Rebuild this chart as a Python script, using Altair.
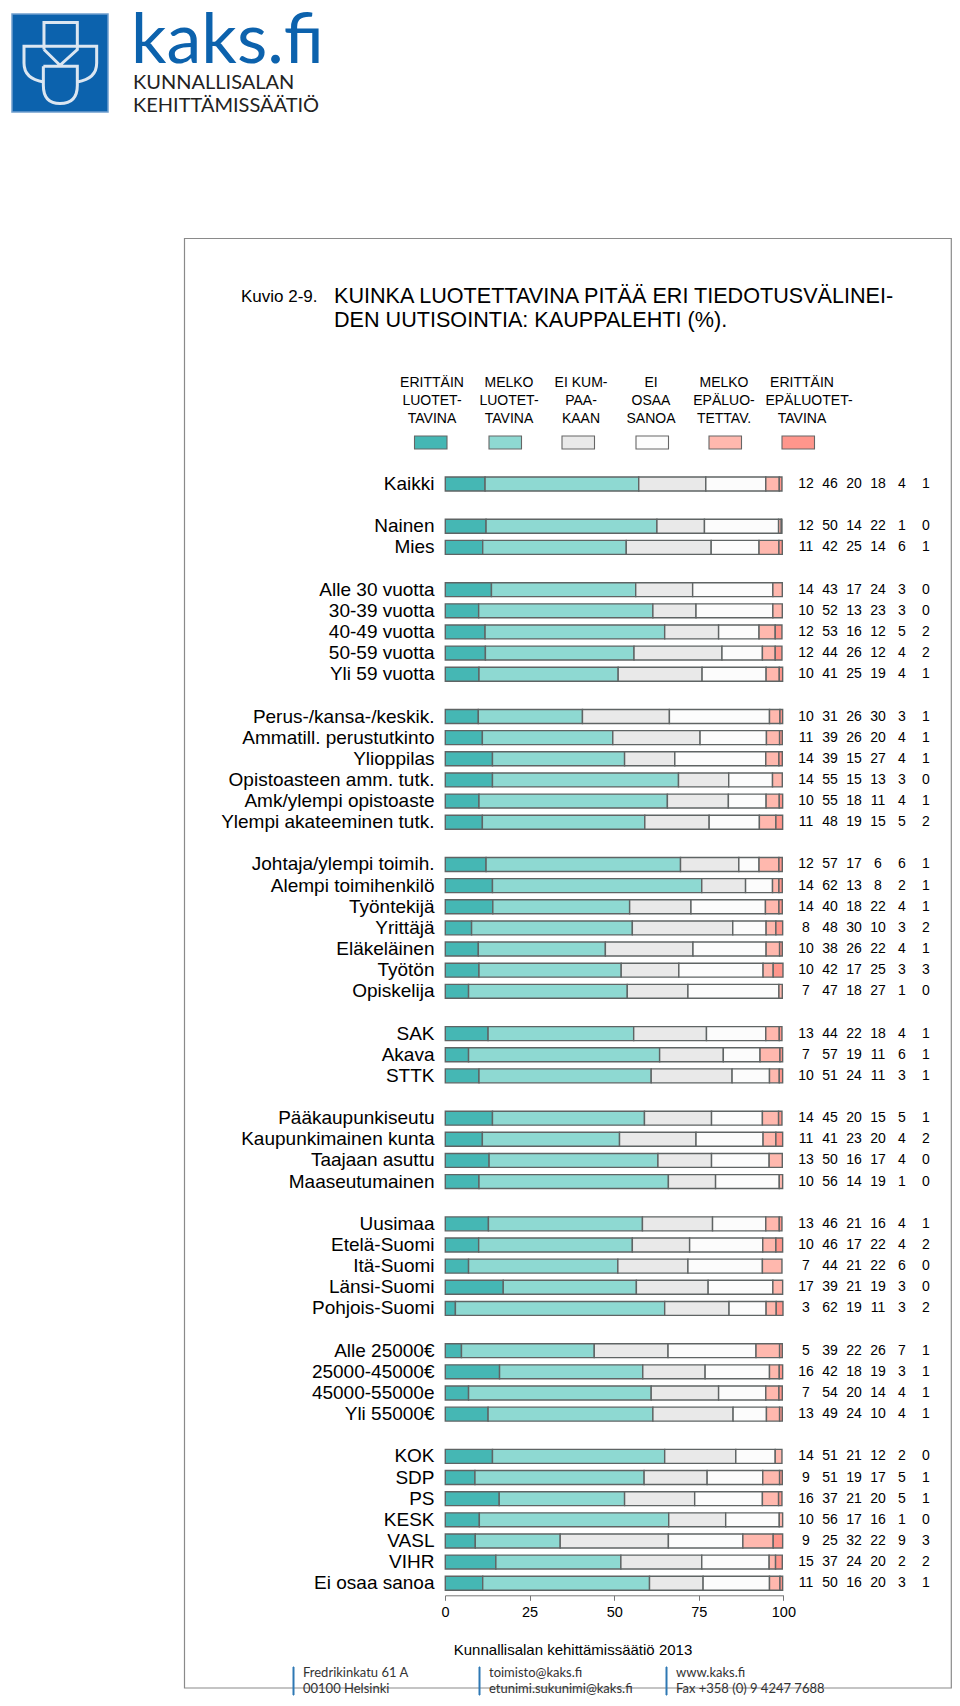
import altair as alt
import pandas as pd

rows = ["Kaikki", "Nainen", "Mies", "Alle 30 vuotta", "30-39 vuotta", "40-49 vuotta", "50-59 vuotta", "Yli 59 vuotta",
        "Perus-/kansa-/keskik.", "Ammatill. perustutkinto", "Ylioppilas", "Opistoasteen amm. tutk.", "Amk/ylempi opistoaste", "Ylempi akateeminen tutk.",
        "Johtaja/ylempi toimih.", "Alempi toimihenkilö", "Työntekijä", "Yrittäjä", "Eläkeläinen", "Työtön", "Opiskelija",
        "SAK", "Akava", "STTK", "Pääkaupunkiseutu", "Kaupunkimainen kunta", "Taajaan asuttu", "Maaseutumainen",
        "Uusimaa", "Etelä-Suomi", "Itä-Suomi", "Länsi-Suomi", "Pohjois-Suomi",
        "Alle 25000€", "25000-45000€", "45000-55000e", "Yli 55000€",
        "KOK", "SDP", "PS", "KESK", "VASL", "VIHR", "Ei osaa sanoa"]
# the groups end after these rows; a blank band follows each
group_ends = ["Kaikki", "Mies", "Yli 59 vuotta", "Ylempi akateeminen tutk.", "Opiskelija", "STTK", "Maaseutumainen", "Pohjois-Suomi", "Yli 55000€"]

categories = ["ERITTÄIN\nLUOTET-\nTAVINA", "MELKO\nLUOTET-\nTAVINA", "EI KUM-\nPAA-\nKAAN", "EI\nOSAA\nSANOA", "MELKO\nEPÄLUO-\nTETTAV.", "ERITTÄIN\nEPÄLUOTET-\nTAVINA"]
colors = ["#45b7b4", "#8ed9d2", "#e9e9e9", "#fcfcfc", "#ffb8ae", "#ff968c"]

# printed numbers
n1 = [12,12,11,14,10,12,12,10,10,11,14,14,10,11,12,14,14,8,10,10,7,13,7,10,14,11,13,10,13,10,7,17,3,5,16,7,13,14,9,16,10,9,15,11]
n2 = [46,50,42,43,52,53,44,41,31,39,39,55,55,48,57,62,40,48,38,42,47,44,57,51,45,41,50,56,46,46,44,39,62,39,42,54,49,51,51,37,56,25,37,50]
n3 = [20,14,25,17,13,16,26,25,26,26,15,15,18,19,17,13,18,30,26,17,18,22,19,24,20,23,16,14,21,17,21,21,19,22,18,20,24,21,19,21,17,32,24,16]
n4 = [18,22,14,24,23,12,12,19,30,20,27,13,11,15,6,8,22,10,22,25,27,18,11,11,15,20,17,19,16,22,22,19,11,26,19,14,10,12,17,20,16,22,20,20]
n5 = [4,1,6,3,3,5,4,4,3,4,4,3,4,5,6,2,4,3,4,3,1,4,6,3,5,4,4,1,4,4,6,3,3,7,3,4,4,2,5,5,1,9,2,3]
n6 = [1,0,1,0,0,2,2,1,1,1,1,0,1,2,1,1,1,2,1,3,0,1,1,1,1,2,0,0,1,2,0,0,2,1,1,1,1,0,1,1,0,3,2,1]

# segment lengths
v1 = [11.8,12.1,11.1,13.7,9.9,11.8,11.9,10.0,9.8,11.0,14.0,14.0,10.0,11.0,12.1,14.0,14.1,7.8,9.8,10.0,6.9,12.7,6.9,10.0,14.0,11.0,13.0,10.0,12.8,9.9,6.9,17.2,3.0,4.8,16.1,6.9,12.7,14.0,8.8,16.0,10.1,8.9,15.0,11.1]
v2 = [45.6,50.7,42.6,42.8,51.7,53.3,44.1,41.3,30.9,38.7,39.2,55.2,55.9,48.2,57.7,62.1,40.6,47.7,37.7,42.2,47.1,43.2,56.7,51.1,45.1,40.7,50.1,56.2,45.7,45.6,44.3,39.5,62.1,39.4,42.5,54.2,48.9,51.1,50.2,37.2,56.2,25.2,37.1,49.5]
v3 = [19.9,14.1,25.2,16.9,12.8,16.0,26.1,24.9,25.8,25.9,14.9,14.9,18.1,19.1,17.3,13.0,18.2,29.8,26.0,17.1,18.0,21.6,18.9,24.0,19.9,22.7,15.9,14.0,20.8,17.0,20.8,21.3,19.1,21.9,18.5,20.0,23.8,21.1,18.7,20.8,16.9,32.1,24.0,15.9]
v4 = [17.8,22.0,14.2,23.8,22.8,12.0,12.0,19.0,29.7,19.7,27.0,13.0,11.2,14.9,6.0,8.0,22.1,9.9,21.7,25.0,27.0,17.6,10.9,11.1,15.1,19.9,17.1,18.9,15.8,21.7,22.1,19.2,11.0,26.1,19.1,14.0,9.9,11.7,16.5,20.1,15.9,22.1,20.0,19.7]
v5 = [4.0,0.8,5.9,2.8,2.8,4.8,3.8,3.9,3.1,3.9,3.9,2.9,3.9,4.9,5.9,1.9,4.0,2.9,4.0,3.0,1.0,4.0,5.9,2.9,4.8,3.8,3.9,1.0,4.0,3.9,5.8,2.9,3.0,7.0,2.9,3.9,3.9,2.0,5.0,4.8,1.0,9.0,1.9,3.1]
v6 = [0.8,0.2,1.0,0,0,2.0,2.0,1.0,0.8,0.8,1.0,0,1.0,2.0,1.0,1.0,1.0,2.0,0.8,2.9,0,0.8,0.8,1.0,1.0,2.0,0,0,0.8,2.0,0,0,2.0,0.8,1.0,1.0,0.8,0,0.8,1.0,0,2.8,2.0,0.8]

ticks = [0, 25, 50, 75, 100]

FONT = "Liberation Sans"
PLOT_X, PLOT_Y = 445.0, 473.4       # page position of the plot area
W, H = 338.4, 1120.4
def px(x): return x - PLOT_X
def py(y): return y - PLOT_Y

domain = []
for r in rows:
    domain.append(r)
    if r in group_ends:
        domain.append(" " * (group_ends.index(r) + 1))

long_rows = []
for i, r in enumerate(rows):
    for k, (vals, nums) in enumerate(zip([v1, v2, v3, v4, v5, v6], [n1, n2, n3, n4, n5, n6])):
        long_rows.append({"row": r, "k": k, "cat": categories[k], "v": vals[i], "n": nums[i]})
df = pd.DataFrame(long_rows)

y_enc = alt.Y("row:N", sort=None, title=None,
              scale=alt.Scale(domain=domain, paddingInner=0.34, paddingOuter=0.17),
              axis=alt.Axis(domain=False, ticks=False, grid=False, labelFont=FONT, labelFontSize=19,
                            labelColor="#000", labelPadding=11, labelLimit=0, labelOverlap=False))

bars = alt.Chart(df[df.v > 0]).mark_bar(stroke="#5f6464", strokeWidth=1.4, xOffset=0.8, x2Offset=-0.8).encode(
    x=alt.X("v:Q", stack="zero", axis=None, scale=alt.Scale(domain=[0, 100], range=[-0.5, 336.5], nice=False)),
    y=y_enc,
    color=alt.Color("cat:N", sort=categories, legend=None, scale=alt.Scale(domain=categories, range=colors)),
    order=alt.Order("k:Q"),
)

numbers = alt.Chart(df).mark_text(font=FONT, fontSize=14, color="#000").encode(
    x=alt.X("k:O", axis=None, scale=alt.Scale(type="point", domain=[0, 1, 2, 3, 4, 5], range=[361, 481], padding=0)),
    y=y_enc,
    text="n:Q",
)

axis_layer = alt.Chart(pd.DataFrame({"t": ticks})).mark_rule(opacity=0).encode(
    x=alt.X("t:Q", title=None, scale=alt.Scale(domain=[0, 100], nice=False),
            axis=alt.Axis(values=ticks, grid=False, offset=1.5, tickSize=5, domainColor="#777", tickColor="#777",
                          labelFont=FONT, labelFontSize=14.5, labelColor="#000", labelPadding=5, labelAngle=0,
                          labelFlush=False, format="d")),
)

ONE = alt.Data(values=[{"t": ""}])

def text(s, x, y, size, font=FONT, color="#000", align="left", baseline="middle", **kw):
    return alt.Chart(alt.Data(values=[{"t": s}])).mark_text(
        font=font, fontSize=size, color=color, align=align, baseline=baseline, **kw
    ).encode(text="t:N", x=alt.value(px(x)), y=alt.value(py(y)))

def box(x0, y0, x1, y1, fill, stroke, sw=1.0, **kw):
    m = {"stroke": stroke, "strokeWidth": sw, **kw}
    if fill is None:
        m["fillOpacity"] = 0
        fill = "#fff"
    return alt.Chart(ONE).mark_rect(**m).encode(
        x=alt.value(px(x0)), x2=alt.value(px(x1)), y=alt.value(py(y0)), y2=alt.value(py(y1)), color=alt.value(fill))

# the page only gives the drawing 944 px, so the frame's right side stops at the drawing's edge
decor = [box(184.5, 238.5, 951.3, 1688, None, "#8a8a8a", 1.2)]

# logo
BLUE = "#0c62ad"
crest = ("M-.356,-.3 L-.356,-.9 L.385,-.9 L.385,-.3 L0,.05 L-.356,-.3 "
         "M.2,-.37 L-.8,-.37 L-.8,0 Q-.8,.35 -.37,.42 "
         "M-.2,-.37 L.815,-.37 L.815,0 Q.815,.35 .385,.42 "
         "M-.37,.07 L.385,.07 L.385,.5 Q.385,.9 0,.9 Q-.37,.9 -.37,.5 L-.37,.07")
decor.append(box(12, 14, 108, 112, BLUE, "#6f9fce", 1.5))
decor.append(alt.Chart(ONE).mark_point(shape=crest, size=8100, filled=False, stroke="#dbe6f1", strokeWidth=3, opacity=1)
             .encode(x=alt.value(px(60)), y=alt.value(py(63))))
decor.append(text("kaks.fi", 131, 63, 70, font="Lato", color=BLUE, baseline="alphabetic"))
decor.append(text("KUNNALLISALAN", 133, 89, 20, font="Lato", color="#222", baseline="alphabetic"))
decor.append(text("KEHITTÄMISSÄÄTIÖ", 133, 112, 20, font="Lato", color="#222", baseline="alphabetic"))

# headings
decor.append(text("Kuvio 2-9.", 241, 297, 17))
decor.append(text("KUINKA LUOTETTAVINA PITÄÄ ERI TIEDOTUSVÄLINEI-", 334, 297, 21.6))
decor.append(text("DEN UUTISOINTIA: KAUPPALEHTI (%).", 334, 321, 21.6))

# hand-set key
key_text_x = [432, 509, 581, 651, 724, 802]
key_box_x = [414.5, 489, 562, 636, 709, 782]
key_line_y = [383, 401, 419]
for c, col, tx, bx in zip(categories, colors, key_text_x, key_box_x):
    for line, ly in zip(c.split("\n"), key_line_y):
        shift = 7 if line == "EPÄLUOTET-" else 0
        decor.append(text(line, tx + shift, ly, 14, align="center"))
    decor.append(box(bx, 436, bx + 32.5, 449, col, "#666666", 1.1))

# footer
decor.append(text("Kunnallisalan kehittämissäätiö 2013", 573, 1650, 15, align="center"))
NARROW = "Lato"
for bar_x, l1, l2 in [(293, "Fredrikinkatu 61 A", "00100 Helsinki"),
                      (479, "toimisto@kaks.fi", "etunimi.sukunimi@kaks.fi"),
                      (666, "www.kaks.fi", "Fax +358 (0) 9 4247 7688")]:
    decor.append(box(bar_x, 1667, bar_x + 1, 1695, "#2f78b4", "#2f78b4", 1))
    decor.append(text(l1, bar_x + 10, 1673, 13, font=NARROW, color="#333"))
    decor.append(text(l2, bar_x + 10, 1689, 13, font=NARROW, color="#333"))

chart = alt.layer(*decor, axis_layer, bars, numbers).resolve_scale(x="independent", color="independent").properties(
    width=W, height=H, autosize="none",
    padding={"left": PLOT_X - 8, "top": PLOT_Y - 8, "right": 944 - (PLOT_X - 8) - W, "bottom": 1690 - (PLOT_Y - 8) - H},
    background="#ffffff",
).configure_view(stroke=None)

chart.save("out.html", embed_options={"renderer": "svg", "actions": False})
